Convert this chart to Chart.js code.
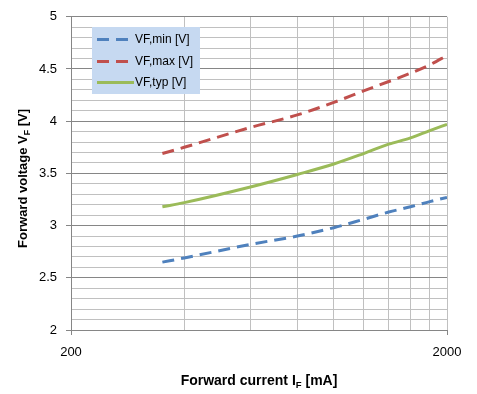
<!DOCTYPE html>
<html>
<head>
<meta charset="utf-8">
<script src="https://cdn.jsdelivr.net/npm/chart.js@4/dist/chart.umd.min.js"></script>
<style>
  body { margin: 0; background: #fff; }
  #chart { display: block; }
</style>
</head>
<body>
<canvas id="chart" width="477" height="394"></canvas>
<script>
// values
const currents = [350, 400, 600, 800, 1000, 1200, 1400, 1600, 1800, 2000];
const vfMin = [2.65, 2.69, 2.82, 2.90, 2.98, 3.06, 3.13, 3.18, 3.23, 3.27];
const vfMax = [3.69, 3.75, 3.94, 4.06, 4.18, 4.29, 4.38, 4.46, 4.54, 4.63];
const vfTyp = [3.18, 3.22, 3.37, 3.49, 3.59, 3.69, 3.78, 3.84, 3.91, 3.97];

const seriesNames = ['VF,min [V]', 'VF,max [V]', 'VF,typ [V]'];

// x grid lines and labelled x ticks
const xGrid = [200, 400, 600, 800, 1000, 1200, 1400, 1600, 1800, 2000];
const xLabels = [200, 2000];

const axisGray = '#868686';
const minorGray = '#c0c0c0';
const dash = [12, 7];

function pts(ys) {
    return currents.map((x, i) => ({ x: x, y: ys[i] }));
}

function isMajorY(v) {
    return Math.round(v * 10) % 5 === 0;
}

// draw text with a subscript part, centred on (x, y)
function drawParts(ctx, parts, x, y, size) {
    let total = 0;
    parts.forEach(p => {
        ctx.font = 'bold ' + (p.sub ? size * 0.68 : size) + 'px "Liberation Sans", Arial, sans-serif';
        p.w = ctx.measureText(p.t).width;
        total += p.w;
    });
    let cx = x - total / 2;
    ctx.textAlign = 'left';
    ctx.textBaseline = 'alphabetic';
    parts.forEach(p => {
        ctx.font = 'bold ' + (p.sub ? size * 0.68 : size) + 'px "Liberation Sans", Arial, sans-serif';
        ctx.fillText(p.t, cx, y + (p.sub ? 3 : 0));
        cx += p.w;
    });
}

const overlay = {
    id: 'overlay',
    afterDraw(chart) {
        const ctx = chart.ctx;
        const a = chart.chartArea;
        ctx.save();
        ctx.fillStyle = '#000';

        // x axis title
        drawParts(ctx, [{ t: 'Forward current I' }, { t: 'F', sub: true }, { t: ' [mA]' }],
            (a.left + a.right) / 2, 385, 14);

        // y axis title
        ctx.save();
        ctx.translate(27, (a.top + a.bottom) / 2 + 5);
        ctx.rotate(-Math.PI / 2);
        drawParts(ctx, [{ t: 'Forward voltage V' }, { t: 'F', sub: true }, { t: ' [V]' }], 0, 0, 13);
        ctx.restore();

        // legend box
        const lx = 92, ly = 27, lw = 108, lh = 67;
        ctx.fillStyle = '#c6d9f1';
        ctx.fillRect(lx, ly, lw, lh);
        const rows = [39.5, 61.5, 82.5];
        chart.data.datasets.forEach((ds, i) => {
            ctx.beginPath();
            ctx.strokeStyle = ds.borderColor;
            ctx.lineWidth = 3;
            ctx.lineCap = 'butt';
            ctx.setLineDash(ds.borderDash || []);
            ctx.moveTo(97, rows[i]);
            ctx.lineTo(134, rows[i]);
            ctx.stroke();
            ctx.setLineDash([]);
            ctx.fillStyle = '#000';
            ctx.font = '12px "Liberation Sans", Arial, sans-serif';
            ctx.textAlign = 'left';
            ctx.textBaseline = 'middle';
            ctx.fillText(ds.label, 135, rows[i]);
        });
        ctx.restore();
    }
};

new Chart(document.getElementById('chart'), {
    type: 'line',
    data: {
        datasets: [
            { label: seriesNames[0], data: pts(vfMin), borderColor: '#4f81bd', borderDash: dash },
            { label: seriesNames[1], data: pts(vfMax), borderColor: '#c0504d', borderDash: dash },
            { label: seriesNames[2], data: pts(vfTyp), borderColor: '#9bbb59' }
        ]
    },
    options: {
        responsive: false,
        animation: false,
        layout: { padding: { left: 0, right: 30, top: 12, bottom: 0 } },
        elements: {
            point: { radius: 0 },
            line: { borderWidth: 3, borderCapStyle: 'butt', cubicInterpolationMode: 'monotone' }
        },
        plugins: {
            legend: { display: false },
            tooltip: { enabled: false }
        },
        scales: {
            x: {
                type: 'logarithmic',
                min: 200,
                max: 2000,
                afterBuildTicks: s => { s.ticks = xGrid.map(v => ({ value: v })); },
                afterFit: s => { s.height = 64; },
                border: { color: axisGray, width: 1 },
                grid: {
                    color: minorGray,
                    tickLength: 5,
                    tickColor: c => xLabels.includes(c.tick.value) ? axisGray : 'transparent'
                },
                ticks: {
                    autoSkip: false,
                    maxRotation: 0,
                    padding: 10,
                    color: '#000',
                    font: { family: '"Liberation Sans", Arial, sans-serif', size: 13 },
                    callback: v => xLabels.includes(v) ? String(v) : ''
                }
            },
            y: {
                min: 2,
                max: 5,
                afterFit: s => { s.width = 71; },
                border: { color: axisGray, width: 1 },
                grid: {
                    color: c => isMajorY(c.tick.value) ? axisGray : minorGray,
                    tickLength: 5,
                    tickColor: c => isMajorY(c.tick.value) ? axisGray : 'transparent'
                },
                ticks: {
                    stepSize: 0.1,
                    autoSkip: false,
                    padding: 9,
                    color: '#000',
                    font: { family: '"Liberation Sans", Arial, sans-serif', size: 13 },
                    callback: v => isMajorY(v) ? String(Number(v.toFixed(1))) : ''
                }
            }
        }
    },
    plugins: [overlay]
});
</script>
</body>
</html>
